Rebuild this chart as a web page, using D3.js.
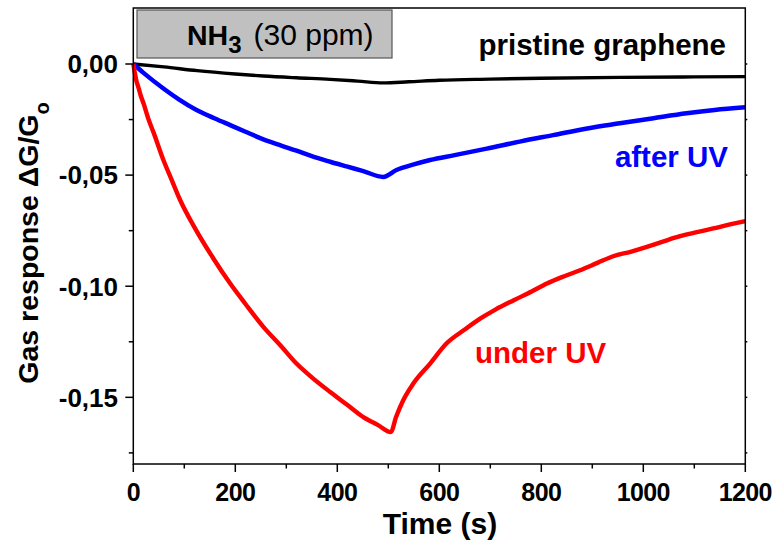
<!DOCTYPE html>
<html><head><meta charset="utf-8">
<script src="https://cdn.jsdelivr.net/npm/d3@7"></script>
<style>body{margin:0;background:#fff}svg{display:block}text{font-family:"Liberation Sans",Arial,sans-serif}</style>
</head><body>
<script>
const xTicks = [0, 200, 400, 600, 800, 1000, 1200];
const yTicks = [0, -0.05, -0.10, -0.15];
const yTickLabels = ["0,00", "-0,05", "-0,10", "-0,15"];

const pristineT = [0, 60, 125, 200, 255, 320, 386, 440, 490, 540, 600, 700, 800, 954, 1100, 1200];
const pristineV = [0, -0.0013, -0.003, -0.0045, -0.0054, -0.0062, -0.0069, -0.0077, -0.0085, -0.008, -0.0073, -0.0068, -0.0064, -0.006, -0.0058, -0.0057];

const afterT = [0, 20, 59, 90, 124, 160, 190, 220, 255, 290, 320, 350, 386, 420, 451, 490, 516, 550, 582, 630, 693, 760, 823, 890, 954, 1020, 1085, 1140, 1200];
const afterV = [0, -0.004, -0.011, -0.016, -0.0207, -0.0245, -0.0275, -0.0305, -0.0339, -0.0367, -0.039, -0.0415, -0.044, -0.0462, -0.0482, -0.0508, -0.0477, -0.0452, -0.0432, -0.041, -0.0381, -0.0348, -0.032, -0.029, -0.0267, -0.0244, -0.0222, -0.0207, -0.0195];

const underT = [0, 3, 6, 10, 15, 20, 30, 40, 59, 75, 92, 120, 157, 190, 220, 255, 290, 320, 350, 386, 420, 451, 480, 505, 515, 529, 549, 582, 614, 650, 680, 710, 746, 780, 811, 845, 876, 910, 941, 975, 1007, 1040, 1072, 1105, 1137, 1170, 1200];
const underV = [0, -0.004, -0.0075, -0.0105, -0.0145, -0.0177, -0.025, -0.031, -0.0432, -0.052, -0.0613, -0.0735, -0.0875, -0.0988, -0.108, -0.1183, -0.127, -0.1348, -0.141, -0.1476, -0.1535, -0.1589, -0.1625, -0.1656, -0.159, -0.1514, -0.1438, -0.1348, -0.1258, -0.1195, -0.1146, -0.1105, -0.1063, -0.1025, -0.0988, -0.0955, -0.0928, -0.0895, -0.0865, -0.0845, -0.0823, -0.0798, -0.0775, -0.0757, -0.074, -0.0722, -0.0707];

const W = 779, H = 546;
const L = 133.3, R = 745.3, T = 8, B = 464;
const svg = d3.select("body").append("svg").attr("width", W).attr("height", H);
const x = d3.scaleLinear().domain([0, 1200]).range([L, R]);
const y = d3.scaleLinear().domain([-0.18, 0.0252]).range([B, T]);

// lines
const line = d3.line().x(d => x(d[0])).y(d => y(d[1])).curve(d3.curveMonotoneX);
const series = [
  {t: pristineT, v: pristineV, c: "#000000", w: 3.4},
  {t: afterT, v: afterV, c: "#0000ff", w: 4.5},
  {t: underT, v: underV, c: "#ff0000", w: 4.4}
];
series.forEach(s => {
  svg.append("path").datum(s.t.map((t, i) => [t, s.v[i]])).attr("d", line)
    .attr("fill", "none").attr("stroke", s.c).attr("stroke-width", s.w).attr("stroke-linejoin", "round");
});

// frame
svg.append("rect").attr("x", L).attr("y", T).attr("width", R - L).attr("height", B - T)
  .attr("fill", "none").attr("stroke", "#000").attr("stroke-width", 1.5);

// ticks
const xMinor = d3.range(100, 1200, 200);
const yMinor = [-0.025, -0.075, -0.125, -0.175];
const g = svg.append("g").attr("stroke", "#000").attr("stroke-width", 1.5);
xTicks.forEach(v => g.append("line").attr("x1", x(v)).attr("x2", x(v)).attr("y1", B).attr("y2", B + 8));
xMinor.forEach(v => g.append("line").attr("x1", x(v)).attr("x2", x(v)).attr("y1", B).attr("y2", B + 4.5));
yTicks.forEach(v => g.append("line").attr("x1", L).attr("x2", L - 8).attr("y1", y(v)).attr("y2", y(v)));
yMinor.forEach(v => g.append("line").attr("x1", L).attr("x2", L - 4.5).attr("y1", y(v)).attr("y2", y(v)));
yTicks.concat(yMinor).forEach(v => g.append("line").attr("x1", R).attr("x2", R + 2).attr("y1", y(v)).attr("y2", y(v)));

// tick labels
xTicks.forEach(v => svg.append("text").attr("x", x(v)).attr("y", 500.5).attr("text-anchor", "middle")
  .attr("font-size", 25).attr("font-weight", "bold").attr("letter-spacing", -0.6).text(v));
yTicks.forEach((v, i) => svg.append("text").attr("x", 118).attr("y", y(v)).attr("dy", "0.36em").attr("text-anchor", "end")
  .attr("font-size", 26).attr("font-weight", "bold").text(yTickLabels[i]));

// axis titles
svg.append("text").attr("x", 440).attr("y", 534).attr("text-anchor", "middle")
  .attr("font-size", 30).attr("font-weight", "bold").text("Time (s)");
const yt = svg.append("text").attr("transform", "translate(38,243) rotate(-90)").attr("text-anchor", "middle")
  .attr("font-size", 28.5).attr("font-weight", "bold");
yt.append("tspan").text("Gas response \u0394G/G");
yt.append("tspan").attr("baseline-shift", "sub").attr("font-size", 20).text("o");

// NH3 box
svg.append("rect").attr("x", 137).attr("y", 10).attr("width", 255).attr("height", 48)
  .attr("fill", "#c0c0c0").attr("stroke", "#555").attr("stroke-width", 1.2);
const nt = svg.append("text").attr("x", 187).attr("y", 45).attr("font-size", 28.5);
nt.append("tspan").attr("font-weight", "bold").text("NH");
nt.append("tspan").attr("font-weight", "bold").attr("font-size", 24).attr("dy", 8).text("3");
nt.append("tspan").attr("dy", -8).attr("dx", 12).attr("font-size", 30).text("(30 ppm)");

// series labels
svg.append("text").attr("x", 726).attr("y", 55).attr("text-anchor", "end").attr("font-size", 29.5)
  .attr("font-weight", "bold").attr("fill", "#000").text("pristine graphene");
svg.append("text").attr("x", 728).attr("y", 167).attr("text-anchor", "end").attr("font-size", 29.5)
  .attr("font-weight", "bold").attr("fill", "#0000ff").text("after UV");
svg.append("text").attr("x", 475).attr("y", 363).attr("font-size", 29.5)
  .attr("font-weight", "bold").attr("fill", "#ff0000").text("under UV");
</script>
</body></html>
